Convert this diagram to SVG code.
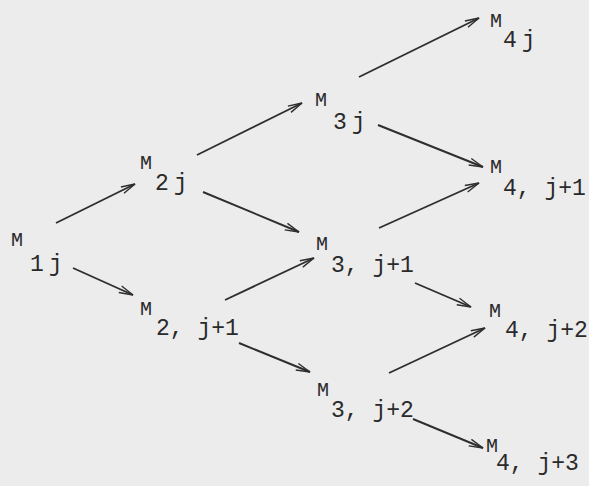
<svg xmlns="http://www.w3.org/2000/svg" width="589" height="486" viewBox="0 0 589 486">
<style>
.m{font-family:"Liberation Mono","DejaVu Sans Mono",monospace;font-size:20px;fill:#2a2a2a}
.s{font-family:"Liberation Mono","DejaVu Sans Mono",monospace;font-size:23px;fill:#2a2a2a}
.sj{letter-spacing:5px}
.e{stroke:#2e2e2e;stroke-width:1.9;fill:none;marker-end:url(#ah)}
</style>
<defs>
<marker id="ah" viewBox="0 0 16 10" refX="15" refY="5" markerWidth="16" markerHeight="10" markerUnits="userSpaceOnUse" orient="auto">
<path d="M1,1.5 L15,5 L1,8.5" fill="none" stroke="#2e2e2e" stroke-width="1.4"/>
</marker>
</defs>
<rect width="589" height="486" fill="#ececec"/>
<g id="connectors">
<line class="e" x1="56" y1="223" x2="135" y2="184"/>
<line class="e" x1="73" y1="268" x2="133" y2="295"/>
<line class="e" x1="197" y1="155" x2="302" y2="103"/>
<line class="e" x1="203" y1="192" x2="299" y2="232"/>
<line class="e" x1="225" y1="300" x2="314" y2="258"/>
<line class="e" x1="239" y1="343" x2="310" y2="372"/>
<line class="e" x1="359" y1="77" x2="479" y2="18"/>
<line class="e" x1="378" y1="125" x2="483" y2="167"/>
<line class="e" x1="379" y1="228" x2="479" y2="183"/>
<line class="e" x1="415" y1="283" x2="471" y2="307"/>
<line class="e" x1="389" y1="373" x2="485" y2="328"/>
<line class="e" x1="413" y1="419" x2="483" y2="448"/>
</g>
<g id="n1j"><text class="m" x="11" y="246">M</text><text class="s sj" x="30" y="271">1j</text></g>
<g id="n2j"><text class="m" x="140" y="169">M</text><text class="s sj" x="155" y="190">2j</text></g>
<g id="n3j"><text class="m" x="315" y="106">M</text><text class="s sj" x="333" y="129">3j</text></g>
<g id="n4j"><text class="m" x="490" y="27">M</text><text class="s sj" x="503" y="47">4j</text></g>
<g id="n4j1"><text class="m" x="490" y="173">M</text><text class="s" x="503" y="195">4, j+1</text></g>
<g id="n2j1"><text class="m" x="140" y="315">M</text><text class="s" x="156" y="335">2, j+1</text></g>
<g id="n3j1"><text class="m" x="316" y="250">M</text><text class="s" x="331" y="272">3, j+1</text></g>
<g id="n4j2"><text class="m" x="489" y="317">M</text><text class="s" x="505" y="337">4, j+2</text></g>
<g id="n3j2"><text class="m" x="317" y="396">M</text><text class="s" x="331" y="417">3, j+2</text></g>
<g id="n4j3"><text class="m" x="486" y="452">M</text><text class="s" x="496" y="470">4, j+3</text></g>
</svg>
